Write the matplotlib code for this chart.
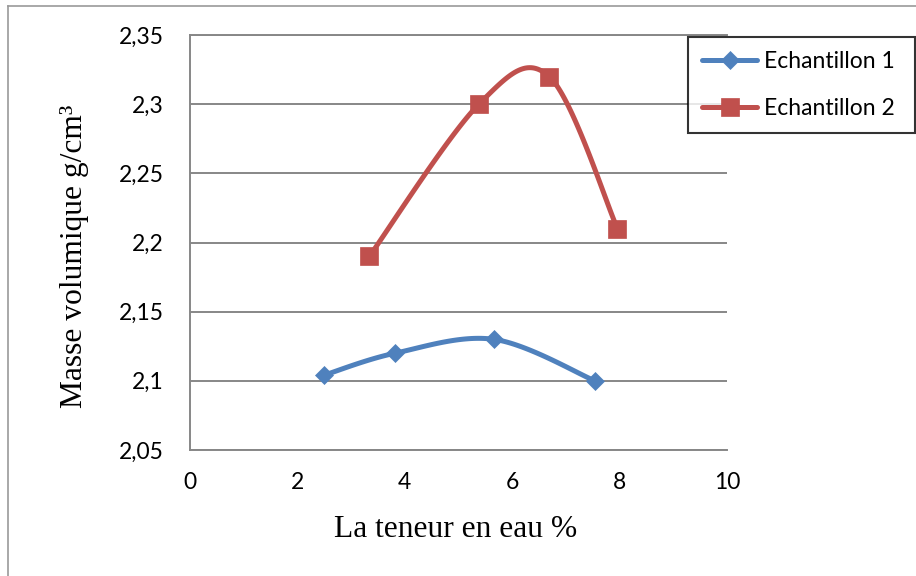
import numpy as np
import matplotlib
matplotlib.use("Agg")
import matplotlib.pyplot as plt
from matplotlib.lines import Line2D

# Water content (%) and bulk density (g/cm3) for each sample
x_ech1 = [2.49, 3.82, 5.66, 7.54]
y_ech1 = [2.104, 2.12, 2.13, 2.10]
x_ech2 = [3.34, 5.38, 6.69, 7.96]
y_ech2 = [2.19, 2.30, 2.32, 2.21]

series_names = ["Echantillon 1", "Echantillon 2"]
x_ticks = [0, 2, 4, 6, 8, 10]
y_ticks = [2.05, 2.10, 2.15, 2.20, 2.25, 2.30, 2.35]

BLUE = "#4F81BD"
RED = "#C0504D"
GRID = "#878787"

W, H = 916, 576
fig = plt.figure(figsize=(W / 100, H / 100), dpi=100)
ax = fig.add_axes([190 / W, 1 - 450 / H, (727 - 190) / W, (450 - 35) / H])

ax.set_xlim(0, 10)
ax.set_ylim(2.05, 2.35)
ax.set_xticks(x_ticks)
ax.set_yticks(y_ticks)
ax.set_xticklabels([str(t) for t in x_ticks])
ax.set_yticklabels([("%g" % t).replace(".", ",") for t in y_ticks])

for lab in ax.get_xticklabels() + ax.get_yticklabels():
    lab.set_fontfamily("Lato")
    lab.set_fontsize(16.5)
ax.tick_params(axis="both", length=0, colors="black")
ax.tick_params(axis="y", pad=19)
ax.tick_params(axis="x", pad=16)

ax.grid(axis="y", color=GRID, linewidth=1.4)
ax.set_axisbelow(True)
for side in ["left", "bottom", "top"]:
    ax.spines[side].set_color(GRID)
    ax.spines[side].set_linewidth(1.4)
ax.spines["right"].set_visible(False)


def smooth_curve(ax, xs, ys, n=40):
    """Bezier smoothing through the points, computed in screen space."""
    pts = ax.transData.transform(np.column_stack([xs, ys]))
    ext = np.vstack([pts[0], pts, pts[-1]])
    out = []
    for i in range(len(pts) - 1):
        p0, p1, p2, p3 = ext[i], ext[i + 1], ext[i + 2], ext[i + 3]
        c1 = p1 + (p2 - p0) / 6.0
        c2 = p2 - (p3 - p1) / 6.0
        t = np.linspace(0, 1, n, endpoint=(i == len(pts) - 2))[:, None]
        seg = ((1 - t) ** 3) * p1 + 3 * ((1 - t) ** 2) * t * c1 \
            + 3 * (1 - t) * t ** 2 * c2 + t ** 3 * p2
        out.append(seg)
    out = np.vstack(out)
    data = ax.transData.inverted().transform(out)
    marks = [i * n for i in range(len(pts) - 1)] + [len(out) - 1]
    return data[:, 0], data[:, 1], marks


sx1, sy1, m1 = smooth_curve(ax, x_ech1, y_ech1)
sx2, sy2, m2 = smooth_curve(ax, x_ech2, y_ech2)

ax.plot(sx1, sy1, color=BLUE, lw=3.6, marker="D", ms=8.8, markevery=m1,
        mec=BLUE, mew=0.5, solid_capstyle="round", label=series_names[0],
        clip_on=False)
ax.plot(sx2, sy2, color=RED, lw=3.6, marker="s", ms=13, markevery=m2,
        mec=RED, mew=0.5, solid_capstyle="round", label=series_names[1],
        clip_on=False)

leg = ax.legend(loc="upper left",
                bbox_to_anchor=(688 / W, 1 - 37 / H, (915 - 688) / W, 0.0),
                bbox_transform=fig.transFigure, mode="expand",
                prop=dict(family="Lato", size=16.5), frameon=True,
                fancybox=False, edgecolor="black", borderaxespad=0,
                handlelength=2.4, handletextpad=0.3, labelspacing=1.12,
                borderpad=0.62, numpoints=1)
leg.get_frame().set_linewidth(1.5)

fig.text(456 / W, 1 - 537 / H, "La teneur en eau %", family="Liberation Serif",
         size=22.7, ha="center", va="baseline")
fig.text(82 / W, 1 - 256.5 / H, "Masse volumique g/cm³", family="Liberation Serif",
         size=22.7, ha="center", va="baseline", rotation=90,
         rotation_mode="anchor")

# Chart area border (top and left edges)
fig.add_artist(Line2D([8 / W, 8 / W], [0, 1 - 6 / H], transform=fig.transFigure,
                      color="#9a9a9a", lw=1.2))
fig.add_artist(Line2D([8 / W, 1], [1 - 6 / H, 1 - 6 / H], transform=fig.transFigure,
                      color="#9a9a9a", lw=1.2))

fig.savefig("out.png", dpi=100)
